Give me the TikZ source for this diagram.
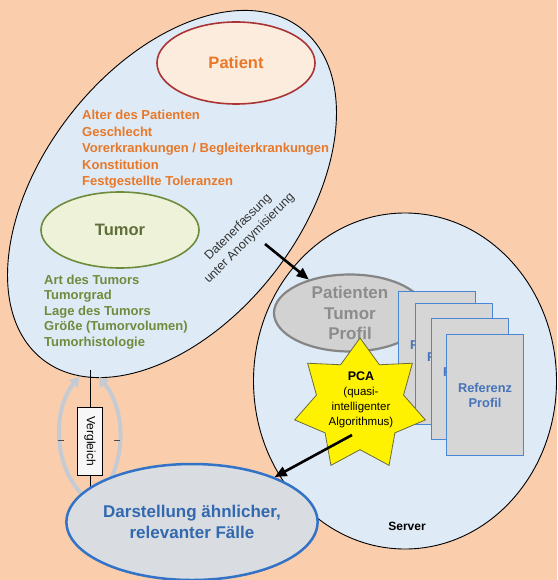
\documentclass[tikz,border=0pt]{standalone}
\usepackage{fontspec}
\setmainfont{Liberation Sans}
\usetikzlibrary{shapes.geometric,arrows.meta}
\definecolor{bg}{HTML}{FACEAC}
\definecolor{cloud}{HTML}{DEEAF6}
\definecolor{patfill}{HTML}{FCECDE}
\definecolor{patline}{HTML}{AA3333}
\definecolor{orangetxt}{HTML}{E87828}
\definecolor{tumfill}{HTML}{EDF2D8}
\definecolor{tumline}{HTML}{6E8C3C}
\definecolor{tumtxt}{HTML}{5F6E3A}
\definecolor{greentxt}{HTML}{6E8C3C}
\definecolor{proffill}{HTML}{D2D2D2}
\definecolor{profline}{HTML}{858585}
\definecolor{proftxt}{HTML}{8C8C8C}
\definecolor{reffill}{HTML}{D6D6D6}
\definecolor{refline}{HTML}{4A86D6}
\definecolor{reftxt}{HTML}{4673B9}
\definecolor{darfill}{HTML}{D9DCE1}
\definecolor{darline}{HTML}{3273C8}
\definecolor{dartxt}{HTML}{3269AF}
\definecolor{arcgray}{HTML}{C6CBD3}
\definecolor{starline}{HTML}{6B6B3A}
\begin{document}
\begin{tikzpicture}[x=1pt,y=-1pt,
  outline/.style={draw=black, line width=0.9pt},
  blob/.style={ellipse, inner sep=0pt},
  listline/.style={anchor=base west, inner sep=0pt, font=\bfseries\fontsize{13}{15}\selectfont},
  refbox/.style={draw=refline, line width=1.1pt, fill=reffill, minimum width=77pt, minimum height=121pt,
    inner sep=0pt, anchor=north west, text=reftxt, align=center, font=\bfseries\fontsize{12.8}{15}\selectfont},
  bigarrow/.style={line width=2.6pt, -{Triangle[length=12pt,width=10pt]}},
  arcstyle/.style={draw=arcgray, line width=4pt, -{Triangle[length=9pt,width=12pt]}}]
\useasboundingbox (0,0) rectangle (557,580);
\fill[bg] (0,0) rectangle (557,580);

% big patient/tumor cloud
\draw[outline, fill=cloud, rotate around={52:(172,194)}] (172,194) ellipse [x radius=210, y radius=129];

% server circle
\node[blob, outline, fill=cloud, minimum width=303pt, minimum height=336pt] (server) at (405,381) {};

% Patient
\node[blob, draw=patline, line width=1.6pt, fill=patfill, minimum width=158pt, minimum height=82pt,
  text=orangetxt, font=\bfseries\fontsize{16.5}{20}\selectfont] (patient) at (236,63) {Patient};
\foreach \t [count=\i] in {Alter des Patienten, Geschlecht, Vorerkrankungen / Begleiterkrankungen, Konstitution, Festgestellte Toleranzen}
  \node[listline, text=orangetxt] (o\i) at (82,{120+16.4*(\i-1)}) {\t};

% Tumor
\node[blob, draw=tumline, line width=1.6pt, fill=tumfill, minimum width=158pt, minimum height=76pt,
  text=tumtxt, font=\bfseries\fontsize{16.5}{20}\selectfont] (tumor) at (120,230) {Tumor};
\foreach \t [count=\i] in {Art des Tumors, Tumorgrad, Lage des Tumors, Größe (Tumorvolumen), Tumorhistologie}
  \node[listline, text=greentxt] (g\i) at (44,{284+15.5*(\i-1)}) {\t};

% Datenerfassung label
\node[rotate=45, align=center, inner sep=0pt, text=black!80, font=\fontsize{12.5}{16}\selectfont] (daten) at (244,233)
  {Datenerfassung\\unter Anonymisierung};

% Patienten Tumor Profil
\node[blob, draw=profline, line width=2.2pt, fill=proffill, minimum width=152pt, minimum height=77pt,
  text=proftxt, align=center, font=\bfseries\fontsize{17}{20.5}\selectfont] (profil) at (350,313)
  {Patienten\\Tumor\\Profil};

% reference profiles
\foreach \x/\y [count=\i] in {398/291,415/303,431/318,446/334}
  \node[refbox] (r\i) at (\x,\y) {Referenz\\Profil};

% star
\node[star, star points=7, star point ratio=1.5, minimum size=134pt, inner sep=0pt,
  draw=starline, line width=0.8pt, fill=yellow] (star) at (360,405) {};
\node[align=center, inner sep=0pt, font=\fontsize{11.5}{15}\selectfont] (pcatxt) at (361,400)
  {{\bfseries\fontsize{12.5}{15}\selectfont PCA}\\(quasi-\\intelligenter\\Algorithmus)};

\node[inner sep=0pt, font=\bfseries\fontsize{12}{14}\selectfont] (srvlbl) at (407,526) {Server};

% Vergleich
\coordinate (la0) at (88,500);
\coordinate (la1) at (79,377);
\coordinate (ra0) at (104,490);
\coordinate (ra1) at (99,377);
\draw[arcstyle] (la0) .. controls (52,470) and (52,410) .. (la1);
\draw[arcstyle] (ra0) .. controls (126,460) and (126,410) .. (ra1);
\coordinate (lt0) at (58,440);
\coordinate (lt1) at (64,440);
\coordinate (rt0) at (114,440);
\coordinate (rt1) at (120,440);
\draw[black!70, line width=0.8pt] (lt0) -- (lt1);
\draw[black!70, line width=0.8pt] (rt0) -- (rt1);

\coordinate (vtop) at (90,370);
\coordinate (vbot) at (90,502);
\node[draw=black, line width=0.8pt, fill=white!94!gray, minimum width=68pt, minimum height=25pt, inner sep=0pt,
  rotate=-90, font=\fontsize{12}{14}\selectfont] (vgl) at (90,441) {Vergleich};
\draw[line width=0.8pt] (vtop) -- (vgl);
\draw[line width=0.8pt] (vgl) -- (vbot);

% Darstellung
\node[blob, draw=darline, line width=2.5pt, fill=darfill, minimum width=220pt, minimum height=116pt,
  text=dartxt, align=center, font=\bfseries\fontsize{17}{21}\selectfont] (darst) at (192,522)
  {Darstellung ähnlicher,\\relevanter Fälle};

% arrows
\coordinate (ds) at (265,244);
\draw[bigarrow] (ds) -- (profil);
\coordinate (ps) at (352,435);
\draw[bigarrow] (ps) -- (darst);
\end{tikzpicture}
\end{document}
